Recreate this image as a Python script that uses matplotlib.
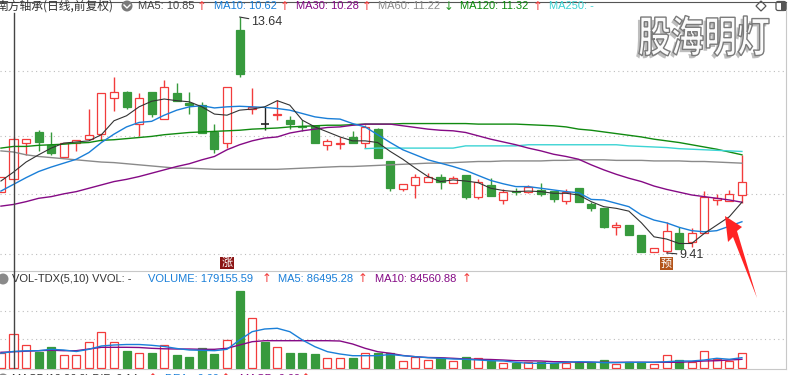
import numpy as np
import matplotlib
matplotlib.use('Agg')
import matplotlib.pyplot as plt
from matplotlib.transforms import Affine2D, blended_transform_factory
from matplotlib.textpath import TextPath
from matplotlib.font_manager import FontProperties
from matplotlib.patches import PathPatch, Polygon, Circle, FancyBboxPatch
from matplotlib import patheffects as pe

plt.rcParams['font.family'] = ['Liberation Sans', 'Noto Sans CJK SC', 'DejaVu Sans']

# daily candles (前复权)
opens = [10.51, 10.73, 11.38, 11.57, 11.35, 11.13, 11.39, 11.45, 11.54, 12.18,
         12.30, 11.73, 12.30, 11.81, 12.27, 12.10, 12.06, 11.57, 11.39, 13.41,
         11.99, 11.72, 11.89, 11.79, 11.69, 11.69, 11.34, 11.36, 11.49, 11.39,
         11.63, 11.06, 10.55, 10.62, 10.68, 10.77, 10.67, 10.81, 10.41, 10.63,
         10.36, 10.52, 10.51, 10.54, 10.53, 10.34, 10.57, 10.28, 10.22, 9.87,
         9.91, 9.73, 9.43, 9.44, 9.76, 9.61, 9.77, 10.36, 10.34, 10.45]
highs = [10.77, 11.49, 11.46, 11.61, 11.57, 11.38, 11.44, 11.99, 12.27, 12.57,
         12.32, 12.27, 12.30, 12.51, 12.46, 12.30, 12.12, 11.73, 12.38, 13.64,
         12.37, 12.03, 12.16, 11.87, 11.79, 11.69, 11.45, 11.49, 11.60, 11.70,
         11.65, 11.06, 10.64, 10.82, 10.84, 10.82, 10.79, 10.81, 10.74, 10.75,
         10.55, 10.57, 10.63, 10.66, 10.53, 10.55, 10.58, 10.33, 10.22, 9.97,
         9.91, 9.73, 9.50, 9.97, 9.87, 9.85, 10.53, 10.46, 10.54, 11.17]
lows = [10.51, 10.69, 11.17, 11.23, 11.17, 11.13, 11.23, 11.45, 11.42, 11.96,
        11.99, 11.51, 11.85, 11.81, 12.13, 11.91, 11.56, 11.20, 11.29, 12.57,
        11.90, 11.61, 11.79, 11.63, 11.60, 11.38, 11.26, 11.27, 11.39, 11.30,
        11.11, 10.53, 10.53, 10.40, 10.68, 10.56, 10.67, 10.37, 10.37, 10.44,
        10.29, 10.45, 10.48, 10.44, 10.33, 10.28, 10.32, 10.16, 9.86, 9.74,
        9.73, 9.42, 9.43, 9.41, 9.49, 9.52, 9.77, 10.27, 10.34, 10.31]
closes = [10.77, 11.45, 11.46, 11.40, 11.20, 11.38, 11.44, 11.52, 12.27, 12.30,
          12.03, 12.18, 11.90, 12.38, 12.13, 12.06, 11.56, 11.27, 12.38, 12.61,
          12.03, 11.72, 11.91, 11.73, 11.67, 11.39, 11.42, 11.39, 11.39, 11.66,
          11.12, 10.58, 10.64, 10.77, 10.77, 10.69, 10.76, 10.42, 10.68, 10.44,
          10.50, 10.50, 10.60, 10.46, 10.37, 10.51, 10.33, 10.22, 9.88, 9.91,
          9.73, 9.43, 9.50, 9.80, 9.49, 9.76, 10.42, 10.40, 10.46, 10.68]
volumes = [76600, 179156, 119100, 85100, 108400, 67500, 67500, 136600, 191400, 136600,
           90400, 76600, 79700, 119100, 67500, 58500, 103100, 72800, 147300, 407700,
           262600, 138200, 108400, 79700, 79700, 72800, 50000, 50000, 53200, 76600,
           76600, 79700, 35600, 55300, 40900, 53200, 35600, 55300, 53200, 37200,
           23400, 26600, 31900, 28700, 23400, 23400, 31900, 28700, 40900, 18100,
           28700, 28700, 18100, 65900, 40900, 30300, 88800, 44700, 37200, 76600]

# moving averages
ma5 = [10.70, 10.86, 11.04, 11.17, 11.29, 11.38, 11.40, 11.42, 11.53, 11.78,
       11.87, 12.03, 12.13, 12.17, 12.14, 12.12, 12.03, 11.90, 11.88, 11.97,
       11.99, 12.03, 12.14, 12.06, 11.79, 11.67, 11.58, 11.49, 11.42, 11.42,
       11.39, 11.23, 11.09, 10.93, 10.78, 10.69, 10.72, 10.70, 10.67, 10.57,
       10.53, 10.51, 10.52, 10.51, 10.48, 10.48, 10.45, 10.33, 10.24, 10.21,
       10.16, 9.95, 9.70, 9.66, 9.58, 9.58, 9.76, 9.91, 10.06, 10.32]
ma10 = [10.52, 10.64, 10.76, 10.87, 10.95, 11.02, 11.09, 11.21, 11.39, 11.54,
        11.67, 11.75, 11.77, 11.88, 11.97, 12.03, 12.05, 12.01, 12.03, 12.04,
        12.03, 12.02, 12.00, 11.97, 11.91, 11.85, 11.82, 11.81, 11.73, 11.67,
        11.53, 11.39, 11.26, 11.17, 11.08, 11.02, 10.96, 10.89, 10.80, 10.71,
        10.65, 10.60, 10.60, 10.57, 10.54, 10.51, 10.49, 10.37, 10.36, 10.30,
        10.24, 10.09, 10.00, 9.95, 9.87, 9.81, 9.79, 9.81, 9.89, 9.97]
ma30 = [10.25, 10.28, 10.33, 10.39, 10.42, 10.47, 10.51, 10.57, 10.63, 10.69,
        10.73, 10.78, 10.84, 10.90, 10.96, 11.01, 11.08, 11.14, 11.26, 11.35,
        11.42, 11.47, 11.49, 11.56, 11.60, 11.63, 11.66, 11.67, 11.70, 11.72,
        11.72, 11.72, 11.69, 11.66, 11.63, 11.61, 11.60, 11.57, 11.51, 11.45,
        11.40, 11.35, 11.29, 11.24, 11.18, 11.14, 11.09, 10.99, 10.90, 10.82,
        10.75, 10.69, 10.61, 10.55, 10.50, 10.45, 10.42, 10.39, 10.36, 10.32]
ma60 = [11.24, 11.22, 11.17, 11.14, 11.12, 11.10, 11.08, 11.06, 11.04, 11.03,
        11.01, 10.99, 10.97, 10.95, 10.93, 10.93, 10.92, 10.91, 10.91, 10.91,
        10.91, 10.91, 10.91, 10.92, 10.93, 10.94, 10.95, 10.96, 10.96, 10.97,
        10.98, 10.99, 11.00, 11.01, 11.02, 11.02, 11.03, 11.04, 11.05, 11.05,
        11.06, 11.06, 11.06, 11.06, 11.07, 11.07, 11.08, 11.08, 11.08, 11.07,
        11.07, 11.07, 11.06, 11.06, 11.06, 11.05, 11.05, 11.04, 11.03, 11.02]
ma120 = [11.29, 11.32, 11.32, 11.34, 11.35, 11.36, 11.38, 11.39, 11.43, 11.44,
         11.46, 11.48, 11.50, 11.53, 11.55, 11.57, 11.58, 11.59, 11.60, 11.61,
         11.63, 11.64, 11.65, 11.67, 11.68, 11.69, 11.70, 11.70, 11.71, 11.72,
         11.72, 11.72, 11.73, 11.73, 11.73, 11.73, 11.73, 11.73, 11.72, 11.72,
         11.72, 11.72, 11.71, 11.70, 11.69, 11.67, 11.63, 11.61, 11.58, 11.55,
         11.52, 11.49, 11.45, 11.42, 11.39, 11.35, 11.31, 11.27, 11.22, 11.17]
ma250 = [np.nan] * 29 + [
    11.28, 11.29, 11.29, 11.29, 11.29, 11.29, 11.29, 11.29, 11.33, 11.33,
    11.33, 11.33, 11.33, 11.35, 11.35, 11.35, 11.35, 11.35, 11.35, 11.35,
    11.35, 11.33, 11.32, 11.31, 11.30, 11.28, 11.27, 11.26, 11.25, 11.24, 11.23]

vol_ma5 = [76600, 86495, 89800, 90400, 97800, 94100, 86100, 97800, 115400, 120700,
           123300, 123300, 119100, 112700, 102100, 94100, 92500, 90400, 97800, 147300,
           191400, 205700, 209500, 191400, 147300, 111600, 85100, 72800, 63800, 63800,
           63800, 70200, 63800, 58500, 53200, 50000, 46200, 44700, 40900, 37200,
           35600, 28700, 23400, 23400, 23400, 28700, 31900, 30300, 26600, 26600,
           28700, 28700, 28700, 31900, 35600, 35600, 40900, 50000, 44700, 53200]
vol_ma10 = [81900, 84561, 87700, 90400, 93000, 90400, 90400, 99400, 108400, 108400,
            108400, 107400, 103100, 100500, 99400, 99400, 97800, 97800, 103100, 120700,
            138200, 143500, 143500, 143500, 143500, 143500, 143500, 141900, 126000, 103100,
            85100, 76600, 64900, 58500, 54200, 53200, 50000, 46200, 44700, 43600,
            40900, 37200, 36700, 35600, 31900, 31400, 28700, 28700, 28700, 28700,
            28700, 28700, 28700, 28700, 28700, 31900, 35600, 37200, 40900, 44700]

price_grid = [12.67, 11.51, 10.46, 9.40]
vol_grid = [150000, 300000]
cursor_idx = 1
max_idx, min_idx = 19, 53
zhang_idx, yu_idx = 18, 53

RED = '#f23c3c'
GREEN = '#379a3d'
BLUE = '#1a7fd8'
PURPLE = '#850a85'

W, H = 788, 375
fig = plt.figure(figsize=(W / 100, H / 100), dpi=100)
fig.patch.set_facecolor('white')
# pixel transform, origin top-left
pix = Affine2D().scale(0.01, -0.01).translate(0, H / 100) + fig.dpi_scale_trans
pix_up = Affine2D().scale(0.01) + fig.dpi_scale_trans


def box(x0, y0, x1, y1):
    return [x0 / W, 1 - y1 / H, (x1 - x0) / W, (y1 - y0) / H]


ax = fig.add_axes(box(0, 2, 786, 271))
axv = fig.add_axes(box(0, 271, 786, 369), sharex=ax)

o = np.array(opens); h = np.array(highs); l = np.array(lows); c = np.array(closes)
idx = np.arange(len(o))
up = c > o
down = c < o
flat = c == o
bw = 0.64

# price panel
for lv in price_grid:
    ax.axhline(lv, color='#bdbdbd', lw=0.8, ls=(0, (1, 3)), zorder=1)
wick_cols = np.where(up, RED, np.where(down, GREEN, '#222222'))
ax.vlines(idx, l, h, colors=wick_cols, lw=1, zorder=3)
ax.bar(idx[up], (c - o)[up], bottom=o[up], width=bw, facecolor='white',
       edgecolor=RED, lw=0.9, zorder=4)
ax.bar(idx[down], (o - c)[down], bottom=c[down], width=bw, facecolor=GREEN,
       edgecolor=GREEN, lw=0.9, zorder=4)
ax.hlines(o[flat], idx[flat] - bw / 2, idx[flat] + bw / 2, color='#222222', lw=1.2, zorder=4)

ax.plot(idx, ma60, color='#8a8a8a', lw=1.0, zorder=5)
ax.plot(idx, ma120, color='#108a10', lw=1.0, zorder=5)
ax.plot(idx, ma250, color='#3cd4d4', lw=1.0, zorder=5)
ax.plot(idx, ma30, color=PURPLE, lw=1.0, zorder=5)
ax.plot(idx, ma10, color=BLUE, lw=1.0, zorder=5)
ax.plot(idx, ma5, color='#333333', lw=0.8, zorder=6)

ax.annotate(f'{highs[max_idx]:.2f}', xy=(max_idx, highs[max_idx]), xytext=(12, -5),
            textcoords='offset pixels', ha='left', va='center', fontsize=9, color='#333',
            arrowprops=dict(arrowstyle='-', color='#333', lw=0.8, shrinkA=0, shrinkB=0))
ax.annotate(f'{lows[min_idx]:.2f}', xy=(min_idx, lows[min_idx]), xytext=(13, -2),
            textcoords='offset pixels', ha='left', va='center', fontsize=9, color='#333',
            arrowprops=dict(arrowstyle='-', color='#333', lw=0.8, shrinkA=0, shrinkB=0))

bt = blended_transform_factory(ax.transData, ax.transAxes)
ax.text(zhang_idx, 0.03, '涨', transform=bt, ha='center', va='center', fontsize=8,
        color='white', family=['Noto Sans CJK SC'], zorder=7,
        bbox=dict(boxstyle='square,pad=0.12', fc='#8c1515', ec='none'))
ax.text(yu_idx, 0.028, '预', transform=bt, ha='center', va='center', fontsize=8,
        color='white', family=['Noto Sans CJK SC'], zorder=7,
        bbox=dict(boxstyle='square,pad=0.12', fc='#b3541a', ec='none'))

ax.axvline(cursor_idx, 0, 0.96, color='#444', lw=1, zorder=8)
ax.set_xlim(-0.075, 62.51)
ax.set_ylim(9.087, 13.909)

# volume panel
v = np.array(volumes)
for lv in vol_grid:
    axv.axhline(lv, color='#bdbdbd', lw=0.8, ls=(0, (1, 3)), zorder=1)
axv.bar(idx[up], v[up], width=bw, facecolor='white', edgecolor=RED, lw=0.9, zorder=3)
axv.bar(idx[~up], v[~up], width=bw, facecolor=GREEN, edgecolor=GREEN, lw=0.9, zorder=3)
axv.plot(idx, vol_ma10, color=PURPLE, lw=1.0, zorder=4)
axv.plot(idx, vol_ma5, color=BLUE, lw=1.0, zorder=5)
axv.axvline(cursor_idx, color='#444', lw=1, zorder=8)
axv.set_ylim(-6900, 514000)

for a in (ax, axv):
    a.set_xticks([])
    a.set_yticks([])
    a.set_facecolor('white')
    a.spines['left'].set_visible(False)
    a.spines['right'].set_color('#c8c8c8')
ax.spines['top'].set_color('#555555')
ax.spines['bottom'].set_visible(False)
axv.spines['top'].set_color('#c8c8c8')
axv.spines['bottom'].set_color('#c8c8c8')


def label(x, y, s, color, size=8, ha='left', family=None):
    kw = {}
    if family:
        kw['family'] = family
    fig.text(x, y, s, transform=pix, color=color, fontsize=size, ha=ha, va='center', **kw)


def arrow(x, y, s, color):
    label(x, y, s, color, size=8.5, ha='center', family=['DejaVu Sans'])


# header of price panel
label(-4, 6, '南方轴承(日线,前复权)', '#333333', size=8.5, family=['Noto Sans CJK SC'])
fig.add_artist(Circle((127, 6), 5.5, transform=pix, fc='#7a7a7a', ec='none'))
fig.add_artist(plt.Line2D([124, 127, 130], [5, 8, 5], transform=pix, color='white', lw=1))
label(138, 6, 'MA5: 10.85', '#444444')
arrow(202, 6, '↑', RED)
label(214, 6, 'MA10: 10.62', BLUE)
arrow(285, 6, '↑', RED)
label(296, 6, 'MA30: 10.28', PURPLE)
arrow(367, 6, '↑', RED)
label(378, 6, 'MA60: 11.22', '#8a8a8a')
arrow(449, 6, '↓', '#2a9a2a')
label(460, 6, 'MA120: 11.32', '#0a8a0a')
arrow(538, 6, '↑', RED)
label(549, 6, 'MA250: -', '#3cd2d2')

fig.add_artist(Polygon([(756, 6), (761, 1), (766, 6), (761, 11)], closed=True,
                       transform=pix, fill=False, ec='#555555', lw=0.9))
fig.add_artist(FancyBboxPatch((776, 1.5), 10, 9, boxstyle='round,pad=0,rounding_size=2',
                              transform=pix, fill=False, ec='#555555', lw=0.9))
fig.add_artist(Polygon([(781, 1.5), (786, 1.5), (786, 10.5), (781, 10.5)], closed=True,
                       transform=pix, fc='#555555', ec='none'))

# header of volume panel
fig.add_artist(Circle((3, 279), 5.5, transform=pix, fc='#8a8a8a', ec='none'))
label(12, 279, 'VOL-TDX(5,10) VVOL: -', '#333333')
label(148, 279, 'VOLUME: 179155.59', BLUE)
arrow(267, 279, '↑', RED)
label(278, 279, 'MA5: 86495.28', BLUE)
arrow(363, 279, '↑', RED)
label(375, 279, 'MA10: 84560.88', PURPLE)
arrow(467, 279, '↑', RED)

# MACD header, mostly cut off at the bottom edge
fig.add_artist(Circle((3, 379), 5.5, transform=pix, fc='#8a8a8a', ec='none'))
label(12, 379, 'MACD(12,26,9) DIF: 0.14', '#333333')
arrow(153, 379, '↑', RED)
label(165, 379, 'DEA: -0.09', BLUE)
arrow(226, 379, '↑', RED)
label(240, 379, 'MACD: 0.09', PURPLE)
arrow(306, 379, '↑', RED)

# watermark
fp = FontProperties(family='Noto Sans CJK SC', weight='bold')
tp = TextPath((0, 0), '股海明灯', size=33, prop=fp)
wm_tr = Affine2D().scale(1, 1.3).translate(638, H - 52) + pix_up
wm = PathPatch(tp, transform=wm_tr, fc='#fbfbfb', ec='#7a7a7a', lw=1.0,
               path_effects=[pe.SimplePatchShadow(offset=(-2, -2), shadow_rgbFace='#8a8a8a', alpha=0.55),
                             pe.Normal()])
fig.add_artist(wm)

# red arrow pointing at the MA crossing
fig.add_artist(Polygon([(725, 216), (742, 227), (737, 231), (757, 298), (733, 237), (728, 242)],
                       closed=True, transform=pix, fc='#ff2424', ec='none', zorder=10))

fig.savefig('out.png', dpi=100, facecolor='white')
